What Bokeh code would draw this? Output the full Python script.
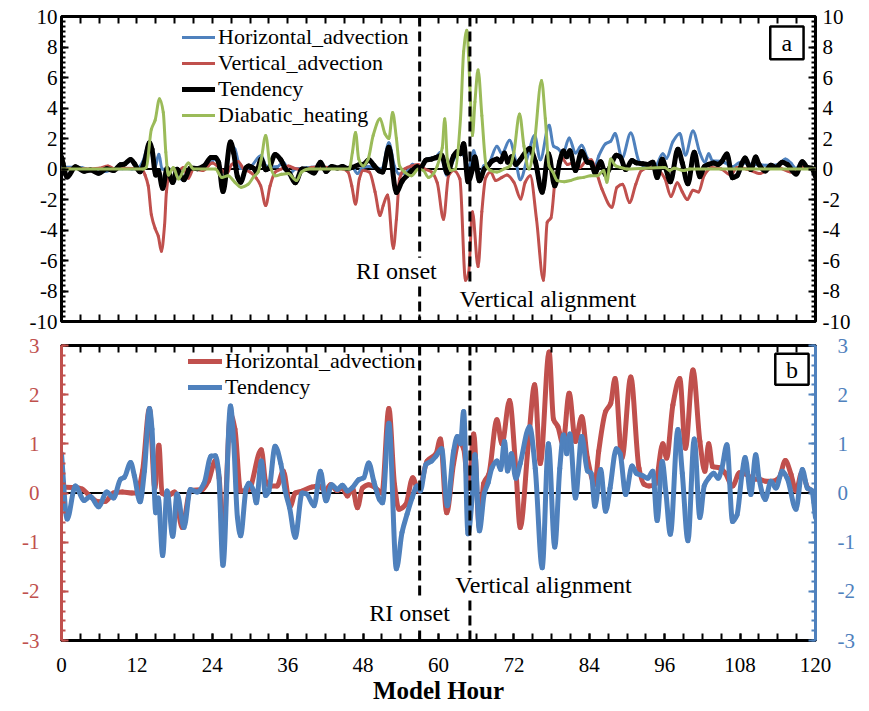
from bokeh.plotting import figure
from bokeh.models import (ColumnDataSource, LinearAxis, FixedTicker, Span, Label,
                          Legend, LegendItem, Range1d, BoxAnnotation)
from bokeh.layouts import column
from bokeh.embed import file_html
from bokeh.resources import INLINE

# ---------------- data (model hour, value) ----------------
ha_points = [(0, 0.12), (2.2, 0.11), (3.3, 0.08), (4.4, -0.05), (5.9, -0.18), (7, -0.17), (8.3, 0.0),
             (9.7, 0.02), (11.2, 0.0), (12.0, 0.0), (12.9, 0.45), (14.0, 1.72), (14.85, 0.1), (15.5, 0.97),
             (16.0, 0.0), (17.0, -0.05), (18.0, 0.02), (19.2, -0.7), (20.5, 0.05), (22.4, 0.07), (23.4, 0.25),
             (24.5, 0.66), (25.1, 0.3), (25.7, -0.97), (26.9, 1.6), (27.6, 1.3), (28.5, 0.04), (29.8, 0.07),
             (31.8, 0.88), (32.5, 0.23), (33.3, 0.14), (34.3, 0.14), (35.3, 0.45), (36.4, -0.27), (37.2, 0.0),
             (38.3, 0.04), (39.8, 0.12), (41.0, 0.14), (42.0, 0.04), (42.8, 0.17), (43.9, 0.05), (44.7, 0.1),
             (45.5, -0.06), (46.3, 0.1), (47.1, -0.3), (47.9, 0.1), (48.9, 0.17), (49.9, 0.11), (51.0, 0.0),
             (52.1, 1.72), (53.0, 0.17), (53.7, -0.33), (54.8, -0.23), (55.9, 0.31), (56.8, 0.04), (58.2, 0.65),
             (59.6, 0.8), (60.3, 1.1), (61.3, -0.4), (62.4, 0.6), (63.2, 1.05), (64.0, 0.9), (64.8, 0.1),
             (65.6, 1.2), (66.5, -0.7), (67.2, 0.2), (68.0, 0.38), (69.3, 1.49), (70.1, 1.0), (71.3, 1.88),
             (72.3, 0.5), (73.0, -0.7), (74.3, 1.0), (75.3, 2.2), (76.2, 0.6), (77.6, 2.87), (78.3, 1.5),
             (79.0, 1.35), (79.8, 1.0), (80.8, 2.03), (81.8, 1.05), (82.8, 1.55), (83.7, 0.71), (84.9, 0.18),
             (85.5, 0.85), (86.6, 1.66), (87.4, 1.82), (88.1, 2.33), (89.2, 0.71), (90.6, 2.36), (91.9, 0.51),
             (92.7, 0.18), (93.5, 0.14), (94.5, 0.18), (95.7, 1.0), (96.3, 0.71), (97.3, 1.79), (98.4, 2.33),
             (99.3, 0.91), (100.5, 2.5), (101.6, 1.05), (102.4, 0.44), (103.0, 1.0), (103.6, 0.54), (104.7, 0.51),
             (105.6, 0.41), (106.8, 0.14), (107.9, 0.41), (109.0, 0.38), (110.1, 0.28), (111.0, 0.28),
             (112.1, 0.24), (113.2, 0.24), (114.2, 0.31), (115.2, 0.66), (116.1, 0.38), (116.9, 0.04),
             (117.8, 0.41), (118.8, 0.1), (120.0, 0.0)]

tend_points = [(0, 0.8), (0.9, -0.53), (2.2, 0.14), (3.6, -0.15), (4.6, -0.07), (5.9, -0.28), (7.2, 0.02),
               (8.3, -0.1), (9.4, 0.28), (10.0, 0.32), (11.0, 0.62), (11.6, 0.35), (12.5, -0.18), (13.2, 0.45),
               (14.0, 1.72), (14.4, 1.3), (15.0, -0.4), (15.4, -0.1), (16.1, -1.27), (16.8, 0.04), (17.7, -0.88),
               (18.4, -0.02), (19.5, -0.7), (20.5, 0.07), (21.6, 0.02), (22.7, 0.2), (23.8, 0.75), (24.5, 0.76),
               (25.0, 0.44), (25.7, -1.47), (26.9, 1.77), (27.4, 1.05), (28.0, -0.5), (28.5, -0.87), (29.4, 0.1),
               (29.8, 0.2), (30.6, 0.04), (31.0, -0.2), (31.8, 0.65), (32.5, -0.05), (33.0, 0.04), (34.0, 0.95),
               (34.9, 0.6), (35.6, 0.04), (36.3, -0.3), (37.2, -0.9), (38.3, 0.0), (39.0, -0.02), (40.2, -0.26),
               (41.2, 0.44), (42.1, -0.16), (43.0, 0.17), (43.9, 0.07), (44.7, 0.16), (45.5, 0.04), (46.3, 0.11),
               (47.3, 0.27), (48.1, 0.31), (48.9, 0.61), (49.7, 0.24), (50.6, -0.13), (51.1, -0.2), (52.1, 1.42),
               (53.3, -1.54), (54.2, -0.8), (55.0, -0.43), (55.8, -0.1), (56.6, 0.14), (57.1, 0.04), (58.0, 0.58),
               (58.9, 0.65), (59.6, 0.75), (60.5, 0.9), (61.4, -0.26), (62.4, 0.85), (63.0, 1.15), (63.5, 1.0),
               (64.0, 1.66), (64.7, -0.83), (65.4, -0.03), (65.8, 0.78), (66.5, -0.77), (67.3, 0.0), (67.9, 0.21),
               (68.5, 0.51), (69.3, 0.65), (69.9, 0.48), (70.5, 1.05), (71.0, 0.45), (71.6, 0.8), (72.3, 0.3),
               (73.0, 0.6), (74.5, 1.35), (75.4, 0.5), (76.5, -1.52), (77.5, 1.0), (78.5, -1.1), (79.3, 0.5),
               (79.9, 1.18), (80.4, 0.8), (80.9, 1.2), (81.8, -0.1), (82.8, 1.15), (83.7, 0.45), (84.3, 0.4),
               (84.9, -0.27), (85.8, 0.48), (86.6, -0.37), (87.3, 0.1), (88.3, 0.9), (88.9, 0.8), (89.8, -0.03),
               (90.8, 0.55), (91.5, 0.4), (92.5, 0.35), (93.3, 0.3), (94.1, 0.44), (94.8, -0.56), (95.6, 0.64),
               (96.2, 0.0), (96.9, -0.84), (98.1, 1.29), (98.8, 0.4), (99.7, -0.97), (100.7, 1.1), (101.6, -0.5),
               (102.3, 0.15), (103.0, 0.3), (103.8, 0.4), (104.5, 0.3), (105.1, 0.5), (105.9, 0.98), (106.8, -0.58),
               (107.5, -0.45), (108.3, 0.38), (108.8, 0.72), (109.7, -0.03), (110.5, 0.78), (111.0, 0.3),
               (112.0, -0.13), (112.9, 0.24), (113.7, 0.1), (114.7, 0.44), (115.5, 0.3), (116.9, -0.33),
               (117.9, 0.48), (118.7, 0.1), (119.4, 0.05), (120.0, -0.5)]

va_points = [(0, 0.0), (2, 0.05), (4, 0.0), (6, 0.05), (7.4, 0.2), (8.5, 0.0), (10, 0.05), (12.8, 0.0),
             (13.3, -0.4), (13.8, -1.1), (14.3, -3.0), (14.9, -3.9), (15.4, -4.4), (15.9, -5.4), (16.4, -3.7),
             (16.7, -1.5), (17.2, -0.2), (17.8, 0.0), (18.6, -0.1), (19.4, 0.1), (20.2, -0.6), (21.0, 0.0),
             (22.5, -0.1), (24.0, 0.4), (25.3, 0.0), (26.3, -0.3), (27.1, 0.3), (28.1, 0.5), (29.0, 0.0),
             (30.0, -0.2), (31.0, -0.6), (31.7, -1.1), (32.5, -2.4), (33.2, -1.1), (34.0, -0.2), (35.0, 0.0),
             (36.1, 0.2), (37.0, 0.05), (38.2, -0.05), (39.8, 0.1), (41.4, 0.15), (43.0, 0.05), (44.8, 0.0),
             (45.6, -0.2), (46.2, -1.1), (46.8, -2.3), (47.4, -0.65), (48.0, -0.1), (49.0, -0.2), (49.9, -1.5),
             (50.7, -3.05), (51.2, -2.4), (51.9, -1.7), (52.8, -5.2), (53.3, -3.3), (53.8, -0.65), (54.6, 0.0),
             (55.7, 0.2), (56.8, 0.3), (57.8, 0.0), (58.9, -0.2), (59.8, -0.9), (60.8, -3.3), (61.6, -0.45),
             (62.4, -0.1), (63.4, -0.65), (64.3, -7.3), (64.8, -6.8), (65.4, -2.8), (66.3, -6.4), (66.9, -2.8),
             (67.5, -0.6), (68.3, -0.2), (69.1, -0.76), (70.1, -0.55), (70.9, -0.4), (72.0, -0.87), (73.1, -1.96),
             (73.8, -0.87), (74.6, -0.45), (75.6, -3.3), (76.7, -7.3), (77.3, -3.5), (77.9, -3.2), (78.6, -0.65),
             (79.7, 0.7), (80.5, 0.3), (81.5, 0.4), (82.5, 0.1), (83.4, 0.5), (84.3, 0.6), (85.2, -0.3),
             (86.0, -1.3), (87.6, -2.5), (88.4, -1.2), (89.3, -1.0), (90.4, -2.2), (91.4, -1.0), (92.3, -0.1),
             (93.5, 0.1), (95.0, -0.1), (96.0, -0.6), (97.0, -1.8), (98.0, -0.9), (98.8, -1.5), (99.6, -2.0),
             (100.5, -1.4), (101.4, -1.5), (102.3, -0.4), (103.5, 0.1), (105.0, 0.0), (106.5, -0.4), (107.5, 0.1),
             (109.0, 0.0), (111.2, -0.3), (112.5, 0.0), (114.0, 0.1), (116.0, -0.2), (118.0, 0.1), (120.0, 0.0)]

dh_points = [(0, 0.0), (13.0, 0.0), (13.5, 0.1), (14.3, 2.6), (14.9, 3.2), (15.6, 4.6), (16.2, 3.7), (16.6, 1.1),
             (17.0, -0.4), (17.8, 0.1), (18.6, -0.65), (19.4, -0.1), (20.2, 0.4), (21.0, 0.0), (24.5, 0.0),
             (25.5, -0.55), (26.5, -0.45), (27.6, -0.87), (28.6, -1.2), (29.7, -1.0), (30.6, -0.5), (31.3, -0.2),
             (31.8, 0.65), (32.5, 2.2), (33.2, 0.2), (34.0, -0.45), (35.0, -0.35), (36.1, -0.3), (37.4, -0.76),
             (38.2, -0.2), (39.3, 0.0), (45.8, 0.0), (46.3, 1.1), (46.8, 2.4), (47.3, 0.65), (48.0, 0.2),
             (48.8, 0.65), (49.6, 2.2), (50.7, 3.3), (51.5, 2.3), (52.1, 2.0), (52.7, 3.7), (53.3, 2.0),
             (53.8, 0.2), (54.6, -0.2), (55.7, -0.45), (56.8, 0.0), (57.6, -0.1), (58.4, -0.55), (59.2, -0.3),
             (59.8, 0.2), (60.6, 1.4), (61.0, 3.3), (61.4, 0.65), (61.9, -0.1), (62.7, 0.0), (63.5, 3.3),
             (64.0, 7.7), (64.5, 9.1), (65.0, 5.4), (65.4, 2.2), (65.8, 4.4), (66.3, 6.5), (66.9, 3.5),
             (67.6, 0.2), (68.3, -0.1), (69.3, -0.2), (70.4, 0.0), (71.4, 0.2), (72.0, 1.1), (72.9, 3.6),
             (73.6, 1.5), (74.4, 0.0), (75.2, 1.5), (76.4, 5.8), (77.0, 3.3), (77.6, 0.2), (78.2, -0.2),
             (78.9, -0.76), (80.0, -0.83), (81.0, -0.76), (82.1, -0.6), (83.1, -0.55), (84.2, -0.45),
             (85.3, -0.45), (86.3, -0.1), (86.8, -0.87), (87.4, 0.65), (88.2, 0.2), (89.0, 0.1), (90.0, 0.0),
             (96.0, 0.1), (96.8, -0.1), (97.5, 0.05), (99.0, -0.1), (100.0, 0.0), (120.0, 0.0)]

ri_onset_hour = 57
alignment_hour = 65
x_tick_labels = list(range(0, 121, 12))
ya_tick_values = list(range(-10, 11, 2))
yb_tick_values = list(range(-3, 4))

# ---------------- style ----------------
BLUE = "#4F81BD"
RED = "#C0504D"
GREEN = "#9BBB59"
FONT = "Liberation Serif"
W = 869


def smooth_src(points):
    """Bezier segments through the read points (smoothed-line drawing style, monotone cubic tangents)."""
    xs = [p[0] for p in points]
    ys = [p[1] for p in points]
    n = len(xs)
    h = [xs[i + 1] - xs[i] for i in range(n - 1)]
    d = [(ys[i + 1] - ys[i]) / h[i] for i in range(n - 1)]
    m = [0.0] * n
    m[0] = d[0]
    m[-1] = d[-1]
    for k in range(1, n - 1):
        if d[k - 1] * d[k] <= 0:
            m[k] = 0.0
        else:
            w1 = 2 * h[k] + h[k - 1]
            w2 = h[k] + 2 * h[k - 1]
            m[k] = (w1 + w2) / (w1 / d[k - 1] + w2 / d[k])
    data = dict(x0=[], y0=[], x1=[], y1=[], cx0=[], cy0=[], cx1=[], cy1=[])
    for i in range(n - 1):
        t = h[i] / 3.0
        data["x0"].append(xs[i])
        data["y0"].append(ys[i])
        data["x1"].append(xs[i + 1])
        data["y1"].append(ys[i + 1])
        data["cx0"].append(xs[i] + t)
        data["cy0"].append(ys[i] + m[i] * t)
        data["cx1"].append(xs[i + 1] - t)
        data["cy1"].append(ys[i + 1] - m[i + 1] * t)
    return ColumnDataSource(data)


def draw(p, points, color, width):
    return p.bezier(x0="x0", y0="y0", x1="x1", y1="y1", cx0="cx0", cy0="cy0", cx1="cx1", cy1="cy1",
                    source=smooth_src(points), line_color=color, line_width=width, line_cap="round")


def style_axis(ax, size="21px", color="black", standoff=4, tick_color="black"):
    ax.axis_line_color = None
    ax.major_tick_in = 7
    ax.major_tick_out = 0
    ax.minor_tick_in = 4
    ax.minor_tick_out = 0
    ax.major_tick_line_width = 2
    ax.minor_tick_line_width = 2
    ax.major_tick_line_color = tick_color
    ax.minor_tick_line_color = tick_color
    ax.major_label_text_font = FONT
    ax.major_label_text_font_size = size
    ax.major_label_text_color = color
    ax.major_label_standoff = standoff


def hide_labels(ax):
    ax.major_label_text_color = None
    ax.major_label_text_font_size = "1px"
    ax.major_label_standoff = 0


def hyphen_labels(values):
    return {v: str(v) for v in values}


x_ticker = FixedTicker(ticks=list(range(0, 121, 3)))

# ================= panel a =================
p1 = figure(width=W, height=333, x_range=Range1d(0, 120), y_range=Range1d(-10, 10),
            output_backend="svg", toolbar_location=None,
            min_border_left=61, min_border_right=54, min_border_top=16, min_border_bottom=12)
p1.grid.visible = False
p1.outline_line_color = "black"
p1.outline_line_width = 3

ya_ticker = FixedTicker(ticks=ya_tick_values, minor_ticks=[v / 3.0 for v in range(-30, 31)])
for ax in p1.yaxis:
    ax.ticker = ya_ticker
    style_axis(ax, standoff=4)
    ax.major_label_overrides = hyphen_labels(ya_tick_values)
ra = LinearAxis(ticker=ya_ticker)
style_axis(ra, standoff=7)
ra.major_label_overrides = hyphen_labels(ya_tick_values)
p1.add_layout(ra, "right")

for ax in p1.xaxis:
    ax.ticker = x_ticker
    style_axis(ax)
    hide_labels(ax)
ta = LinearAxis(ticker=x_ticker)
style_axis(ta)
hide_labels(ta)
p1.add_layout(ta, "above")

p1.add_layout(Span(location=0, dimension="width", line_color="black", line_width=2, level="underlay"))

r_ha1 = draw(p1, ha_points, BLUE, 3)
r_va1 = draw(p1, va_points, RED, 3)
r_t1 = draw(p1, tend_points, "black", 5)
r_dh1 = draw(p1, dh_points, GREEN, 3)

for hr in (ri_onset_hour, alignment_hour):
    p1.add_layout(Span(location=hr, dimension="height", line_color="black", line_width=3, line_dash="10 5"))

leg1 = Legend(items=[LegendItem(label="Horizontal_advection", renderers=[r_ha1]),
                     LegendItem(label="Vertical_advection", renderers=[r_va1]),
                     LegendItem(label="Tendency", renderers=[r_t1]),
                     LegendItem(label="Diabatic_heating", renderers=[r_dh1])],
              location=(121, 193), orientation="vertical",
              label_text_font=FONT, label_text_font_size="22px", label_text_color="black",
              glyph_width=33, glyph_height=20, label_standoff=3, spacing=0,
              padding=0, margin=0, border_line_color=None, background_fill_alpha=0)
p1.add_layout(leg1)

p1.add_layout(Label(x=53.3, y=-6.67, text="RI onset", text_font=FONT, text_font_size="24px",
                    text_color="black", text_align="center", text_baseline="middle",
                    background_fill_color="white"))
p1.add_layout(Label(x=77.4, y=-8.5, text="Vertical alignment", text_font=FONT, text_font_size="24px",
                    text_color="black", text_align="center", text_baseline="middle",
                    background_fill_color="white"))
p1.add_layout(BoxAnnotation(left=112.8, right=118.1, bottom=7.19, top=9.35, fill_color="white",
                            fill_alpha=1, line_color="black", line_alpha=1, line_width=2.5))
p1.add_layout(Label(x=115.45, y=8.27, text="a", text_font=FONT, text_font_size="24px",
                    text_color="black", text_align="center", text_baseline="middle"))

# ================= panel b =================
p2 = figure(width=W, height=378, x_range=p1.x_range, y_range=Range1d(-3, 3),
            output_backend="svg", toolbar_location=None,
            min_border_left=61, min_border_right=54, min_border_top=12, min_border_bottom=71)
p2.grid.visible = False
p2.outline_line_color = "black"
p2.outline_line_width = 3

yb_ticker = FixedTicker(ticks=yb_tick_values, minor_ticks=[v / 5.0 for v in range(-15, 16)])
for ax in p2.yaxis:
    ax.ticker = yb_ticker
    style_axis(ax, color=RED, standoff=22, tick_color=RED)
    ax.major_label_overrides = hyphen_labels(yb_tick_values)
    ax.axis_line_color = RED
    ax.axis_line_width = 3
rb = LinearAxis(ticker=yb_ticker)
style_axis(rb, color=BLUE, standoff=22, tick_color=BLUE)
rb.major_label_overrides = hyphen_labels(yb_tick_values)
rb.axis_line_color = BLUE
rb.axis_line_width = 3
p2.add_layout(rb, "right")

xb_ticker = FixedTicker(ticks=x_tick_labels, minor_ticks=list(range(0, 121, 3)))
for ax in p2.xaxis:
    ax.ticker = xb_ticker
    style_axis(ax, standoff=17)
    ax.minor_tick_in = 7
    ax.axis_label = "Model Hour"
    ax.axis_label_text_font = FONT
    ax.axis_label_text_font_size = "25px"
    ax.axis_label_text_font_style = "bold"
    ax.axis_label_text_color = "black"
    ax.axis_label_standoff = 2
tb = LinearAxis(ticker=x_ticker)
style_axis(tb)
hide_labels(tb)
p2.add_layout(tb, "above")

p2.add_layout(Span(location=0, dimension="width", line_color="black", line_width=2, level="underlay"))

r_ha2 = draw(p2, ha_points, RED, 5)
r_t2 = draw(p2, tend_points, BLUE, 5)

for hr in (ri_onset_hour, alignment_hour):
    p2.add_layout(Span(location=hr, dimension="height", line_color="black", line_width=3, line_dash="10 5"))

leg2 = Legend(items=[LegendItem(label="Horizontal_advection", renderers=[r_ha2]),
                     LegendItem(label="Tendency", renderers=[r_t2])],
              location=(127, 240), orientation="vertical",
              label_text_font=FONT, label_text_font_size="22px", label_text_color="black",
              glyph_width=34, glyph_height=20, label_standoff=3, spacing=0,
              padding=0, margin=0, border_line_color=None, background_fill_alpha=0)
p2.add_layout(leg2)

p2.add_layout(Label(x=55.4, y=-2.44, text="RI onset", text_font=FONT, text_font_size="24px",
                    text_color="black", text_align="center", text_baseline="middle",
                    background_fill_color="white"))
p2.add_layout(Label(x=76.7, y=-1.88, text="Vertical alignment", text_font=FONT, text_font_size="24px",
                    text_color="black", text_align="center", text_baseline="middle",
                    background_fill_color="white"))
p2.add_layout(BoxAnnotation(left=113.6, right=118.9, bottom=2.2, top=2.83, fill_color="white",
                            fill_alpha=1, line_color="black", line_alpha=1, line_width=2.5))
p2.add_layout(Label(x=116.25, y=2.5, text="b", text_font=FONT, text_font_size="24px",
                    text_color="black", text_align="center", text_baseline="middle"))

layout = column(p1, p2, spacing=0)
open("out.html", "w").write(file_html(layout, INLINE))
